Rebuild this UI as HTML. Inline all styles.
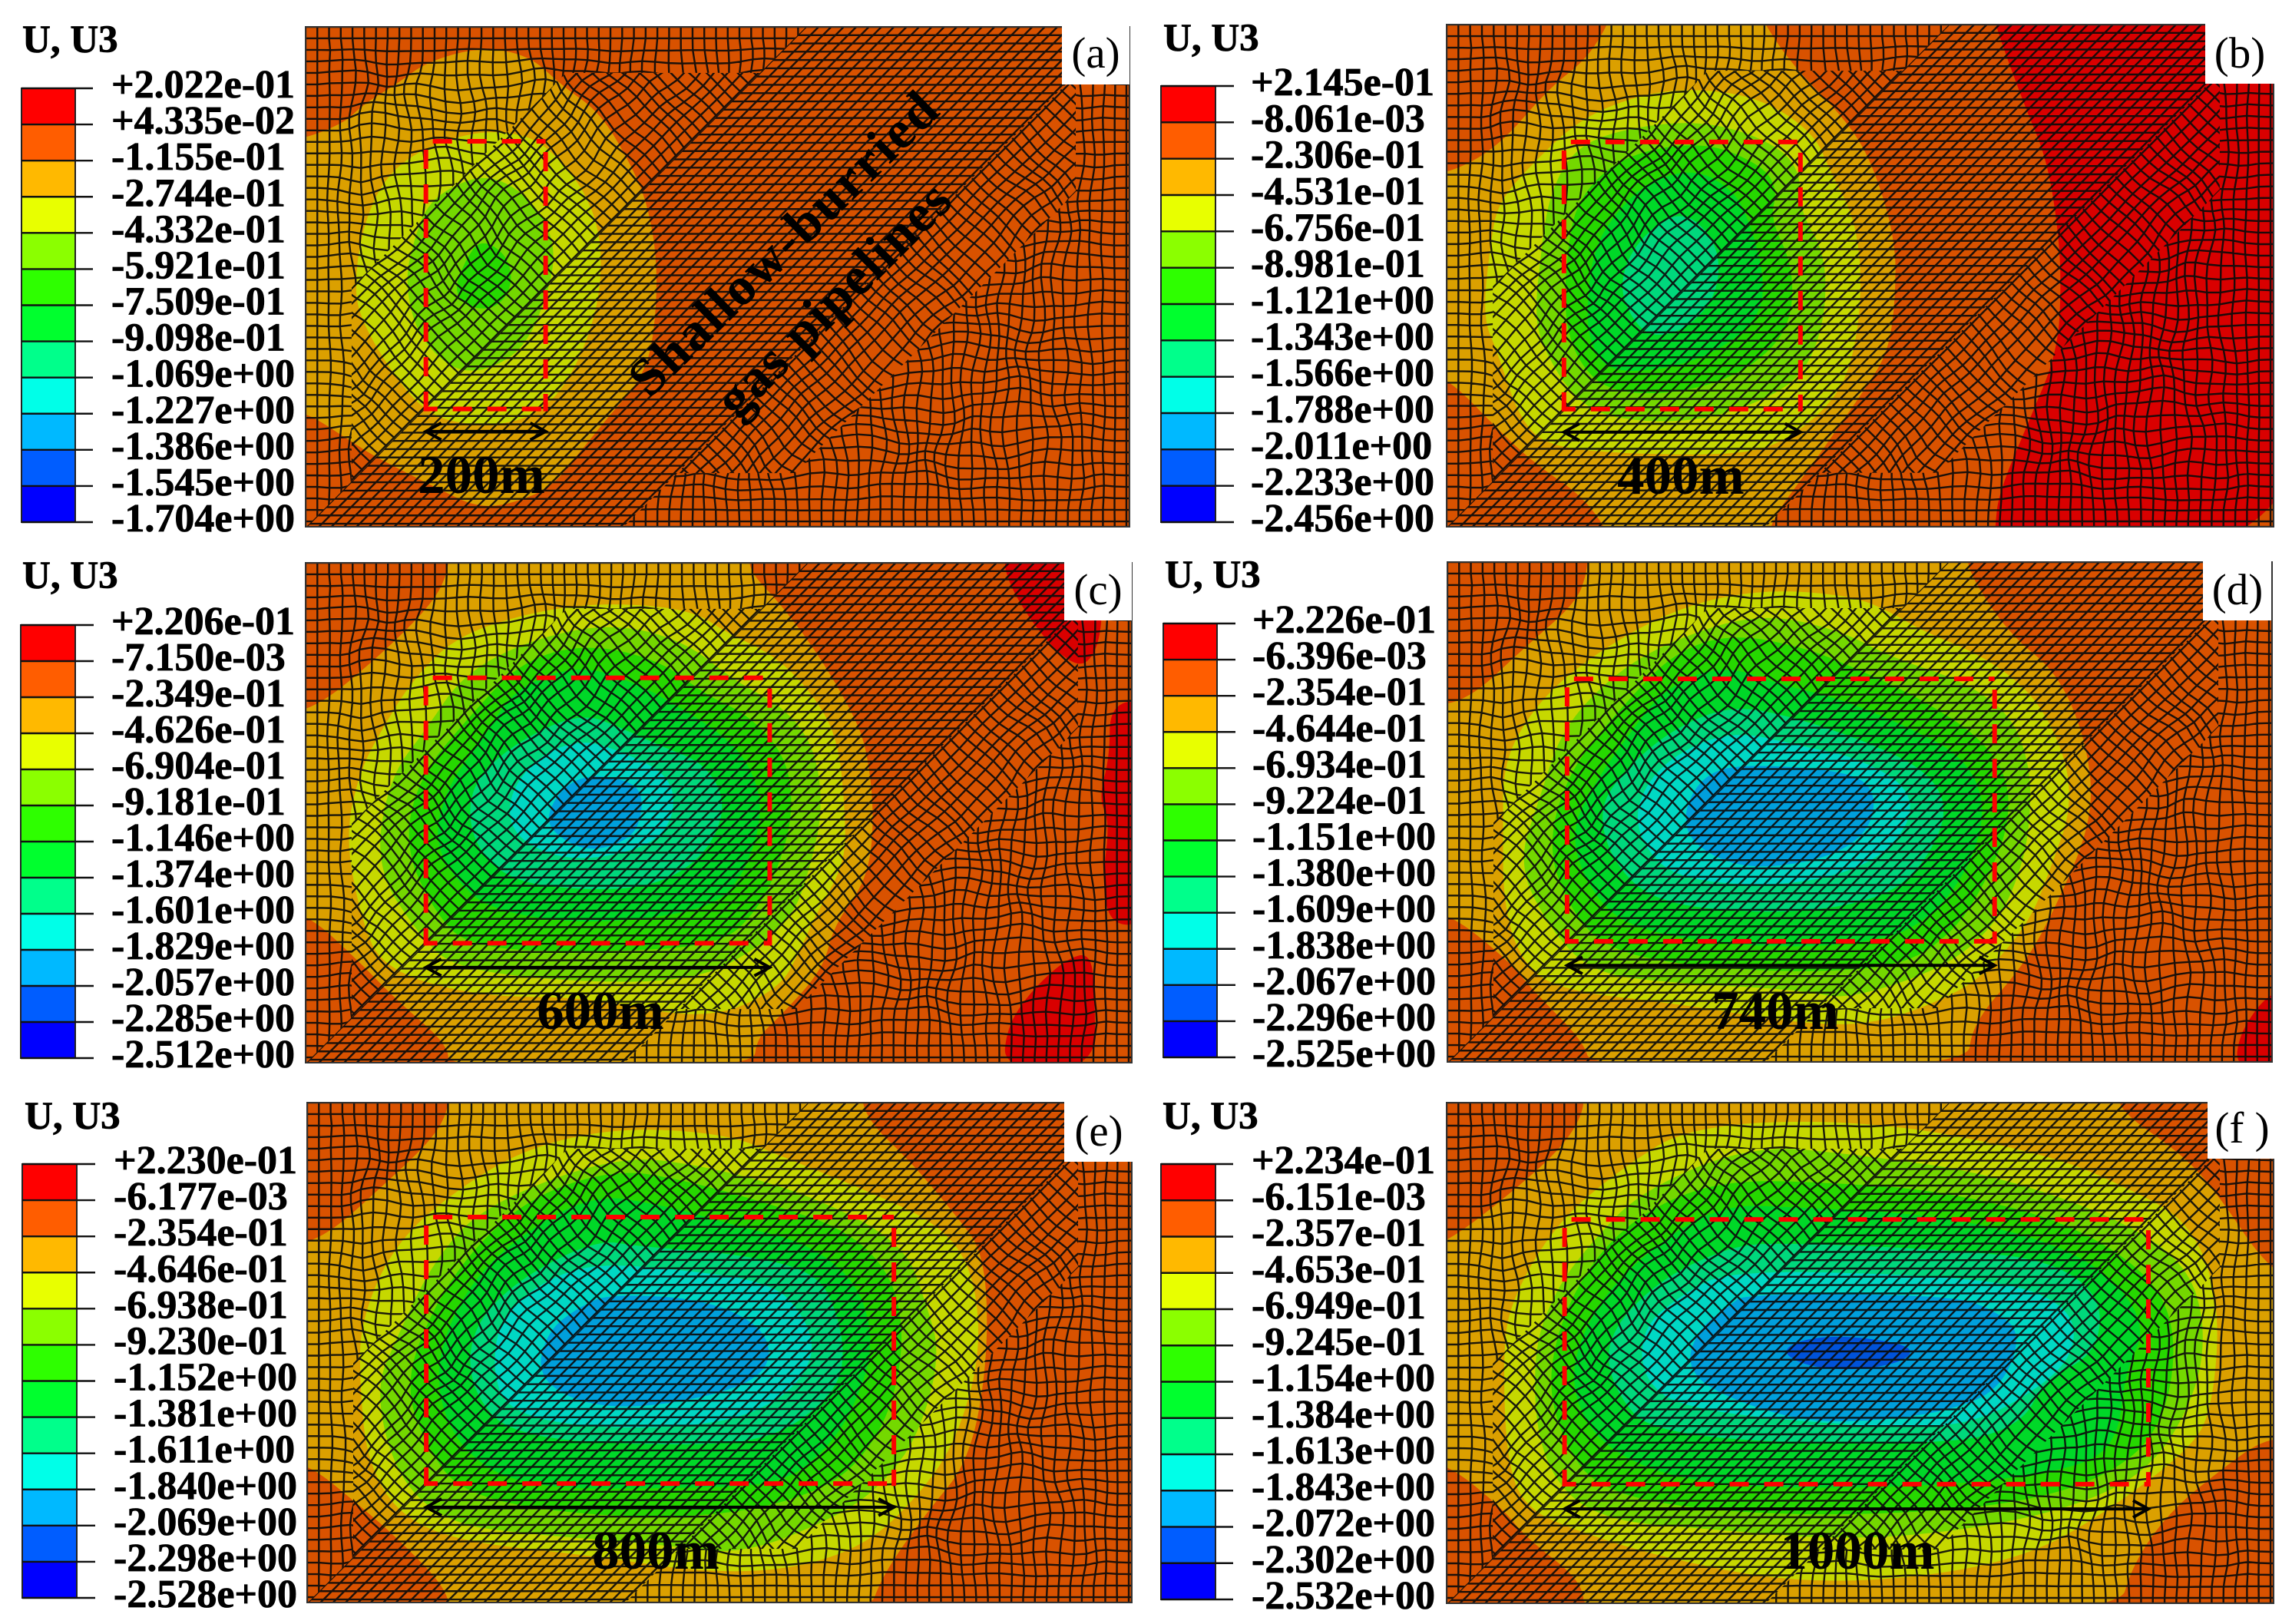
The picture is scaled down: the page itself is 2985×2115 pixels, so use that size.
<!DOCTYPE html>
<html lang="en">
<head>
<meta charset="utf-8">
<title>U3 displacement contours for six tunnel widths</title>
<style>
html,body{margin:0;padding:0;background:#fff;}
svg{display:block;}
text{font-family:"Liberation Serif","DejaVu Serif",serif;}
</style>
</head>
<body>
<svg id="figure" xmlns="http://www.w3.org/2000/svg" width="2985" height="2115" viewBox="0 0 2985 2115">
<rect width="2985" height="2115" fill="#ffffff"/>
<defs id="defs"></defs>
</svg>
<script>
// ---------- legend data ----------
const bandLegendColors = ['#ff0000','#ff5d00','#ffb900','#e8ff00','#8bff00','#2eff00','#00ff2e','#00ff8b','#00ffe8','#00b9ff','#005dff','#0000ff'];
const bandFieldColors = ['#d90000','#d95200','#dba000','#c6d800','#74d800','#26d800','#00d828','#00d87c','#00d8c4','#009fdc','#0052d9','#0000d9'];
const ticksA = ['+2.022e-01','+4.335e-02','-1.155e-01','-2.744e-01','-4.332e-01','-5.921e-01','-7.509e-01','-9.098e-01','-1.069e+00','-1.227e+00','-1.386e+00','-1.545e+00','-1.704e+00'];
const ticksB = ['+2.145e-01','-8.061e-03','-2.306e-01','-4.531e-01','-6.756e-01','-8.981e-01','-1.121e+00','-1.343e+00','-1.566e+00','-1.788e+00','-2.011e+00','-2.233e+00','-2.456e+00'];
const ticksC = ['+2.206e-01','-7.150e-03','-2.349e-01','-4.626e-01','-6.904e-01','-9.181e-01','-1.146e+00','-1.374e+00','-1.601e+00','-1.829e+00','-2.057e+00','-2.285e+00','-2.512e+00'];
const ticksD = ['+2.226e-01','-6.396e-03','-2.354e-01','-4.644e-01','-6.934e-01','-9.224e-01','-1.151e+00','-1.380e+00','-1.609e+00','-1.838e+00','-2.067e+00','-2.296e+00','-2.525e+00'];
const ticksE = ['+2.230e-01','-6.177e-03','-2.354e-01','-4.646e-01','-6.938e-01','-9.230e-01','-1.152e+00','-1.381e+00','-1.611e+00','-1.840e+00','-2.069e+00','-2.298e+00','-2.528e+00'];
const ticksF = ['+2.234e-01','-6.151e-03','-2.357e-01','-4.653e-01','-6.949e-01','-9.245e-01','-1.154e+00','-1.384e+00','-1.613e+00','-1.843e+00','-2.072e+00','-2.302e+00','-2.532e+00'];

// ---------- tunnel data (metres in model space) ----------
const panelLetters = ['(a)','(b)','(c)','(d)','(e)','(f )'];
const tunnelLabels = ['200m','400m','600m','740m','800m','1000m'];
const tunnelLeftM = [204,199,204,203,202,200];
const tunnelWidthM = [203,401,583,725,793,990];
const tunnelTopM = [194,199,195,198,194,198];
const tunnelBottomM = [648,652,645,643,646,647];
const arrowYM = [686,691,686,684,686,689];

// ---------- contour boundaries, model coordinates, one array per band ----------
const contourA2 = [[-20,1190],[25,1190],[110,1280],[160,1330],[270,1420],[340,1475],[400,1470],[480,1420],[530,1320],[600,1180],[640,1110],[670,1000],[680,760],[660,560],[620,420],[570,290],[500,210],[440,120],[350,95],[250,140],[200,200],[130,270],[100,320],[25,370],[-20,370]];
const contourA3 = [[350,345],[440,360],[490,420],[540,520],[570,640],[575,780],[560,920],[520,1080],[470,1180],[400,1230],[300,1225],[240,1180],[180,1060],[130,920],[115,820],[130,640],[170,490],[240,400]];
const contourA4 = [[360,480],[420,520],[470,610],[490,720],[470,860],[430,1000],[370,1060],[320,1070],[280,1040],[230,950],[210,800],[225,680],[250,570],[300,510]];
const contourA5 = [[350,670],[400,720],[410,810],[380,880],[330,880],[300,830],[320,740]];

const contourB0 = [[1165,40],[1165,70],[1205,300],[1235,450],[1250,640],[1255,800],[1250,1000],[1210,1200],[1170,1400],[1165,1500],[1165,1560],[1620,1560],[1620,40]];
const contourB2 = [[850,40],[850,60],[890,185],[965,345],[1000,470],[1030,680],[1030,850],[1020,1000],[990,1100],[950,1220],[920,1310],[860,1480],[860,1540],[640,1540],[635,1490],[600,1400],[550,1330],[500,1240],[420,1065],[380,1065],[380,490],[421,495],[490,420],[560,250],[610,170],[640,70],[640,40]];
const contourB3 = [[760,250],[850,280],[920,380],[940,480],[975,620],[985,800],[975,1000],[950,1130],[890,1240],[830,1290],[680,1290],[560,1270],[520,1190],[490,1000],[470,900],[480,700],[490,580],[530,480],[600,340],[680,270]];
const contourB4 = [[760,340],[850,390],[900,470],[900,600],[935,720],[935,900],[910,1050],[860,1130],[760,1200],[640,1190],[590,1120],[555,1000],[540,900],[550,700],[560,560],[590,430],[650,370]];
const contourB5 = [[770,400],[850,470],[870,540],[860,620],[890,750],[890,900],[860,1000],[800,1080],[720,1120],[640,1110],[600,1030],[580,900],[585,700],[600,560],[660,440]];
const contourB6 = [[760,480],[810,540],[830,620],[850,760],[850,880],[810,970],[740,1040],[650,1060],[620,1000],[610,900],[620,700],[660,580],[700,510]];
const contourB7 = [[740,590],[790,690],[790,830],[750,930],[700,960],[670,900],[655,800],[680,680]];

const contourC0a = [[1365,50],[1500,50],[1500,250],[1490,340],[1470,380],[1435,330],[1395,220],[1370,120]];
const contourC0b = [[1510,490],[1560,470],[1560,1130],[1510,1130],[1500,1000],[1510,830],[1495,760],[1510,640]];
const contourC0c = [[1365,1550],[1370,1430],[1400,1330],[1450,1230],[1485,1210],[1490,1350],[1490,1550]];
const contourC2 = [[1020,40],[1020,100],[1060,190],[1110,330],[1160,510],[1180,620],[1190,820],[1180,1000],[1135,1130],[1120,1260],[1060,1400],[1030,1460],[1025,1550],[610,1550],[610,1480],[540,1350],[490,1240],[420,1100],[380,1100],[380,510],[430,500],[520,340],[590,190],[610,100],[610,40]];
const contourC3 = [[820,190],[940,210],[990,280],[1050,340],[1100,440],[1140,580],[1150,800],[1150,950],[1110,1100],[1090,1200],[1060,1320],[960,1410],[800,1340],[650,1340],[520,1260],[490,1100],[470,870],[490,680],[520,560],[560,420],[620,290],[720,220]];
const contourC4 = [[830,250],[930,300],[1000,420],[1070,500],[1110,620],[1120,800],[1100,980],[1080,1100],[1030,1200],[950,1290],[800,1300],[620,1260],[570,1160],[510,960],[530,700],[580,560],[630,400],[720,300]];
const contourC5 = [[800,310],[900,360],[960,460],[1020,520],[1070,640],[1080,800],[1060,960],[1030,1090],[980,1190],[820,1210],[640,1200],[590,1090],[550,900],[570,700],[640,520],[710,360]];
const contourC6 = [[790,370],[870,430],[920,490],[980,570],[1020,660],[1040,800],[1010,1000],[960,1090],[800,1130],[670,1090],[620,1000],[590,880],[610,720],[660,580],[700,440]];
const contourC7 = [[790,510],[850,560],[900,610],[960,660],[990,780],[960,930],[890,1020],[790,1030],[690,1000],[640,880],[640,720],[700,600]];
const contourC8 = [[790,590],[840,620],[910,690],[920,800],[890,900],[780,950],[700,880],[690,760],[730,640]];
const contourC9 = [[810,690],[870,720],[875,800],[860,880],[800,920],[750,860],[745,800],[770,720]];

const contourD0 = [[1490,1550],[1495,1450],[1530,1340],[1560,1320],[1560,1550]];
const contourD2 = [[1125,40],[1125,100],[1180,280],[1250,400],[1290,620],[1295,830],[1240,1100],[1200,1250],[1130,1420],[1125,1550],[610,1550],[600,1470],[530,1320],[500,1240],[420,1100],[380,1100],[380,490],[440,480],[520,320],[590,190],[605,100],[605,40]];
const contourD3 = [[840,150],[970,170],[1030,230],[1060,270],[1150,350],[1220,470],[1260,650],[1265,800],[1240,950],[1210,1120],[1150,1270],[1100,1340],[1000,1420],[900,1420],[730,1360],[560,1320],[510,1220],[490,1050],[490,850],[490,660],[530,500],[600,360],[720,210]];
const contourD4 = [[840,220],[950,270],[1020,350],[1120,420],[1185,520],[1210,670],[1210,820],[1200,950],[1170,1110],[1100,1250],[960,1350],[900,1320],[720,1300],[610,1270],[550,1130],[510,950],[540,760],[570,560],[640,400],[720,300]];
const contourD5 = [[800,280],[900,320],[970,380],[1060,470],[1140,580],[1180,700],[1180,850],[1150,1000],[1110,1140],[1040,1250],[900,1270],[740,1250],[630,1200],[580,1080],[550,900],[580,680],[650,500],[720,340]];
const contourD6 = [[790,370],[870,430],[950,470],[1040,550],[1120,640],[1150,780],[1130,950],[1080,1100],[1010,1180],[850,1200],[670,1150],[610,1040],[580,860],[620,700],[660,580],[710,440]];
const contourD7 = [[800,490],[880,520],[980,590],[1070,680],[1100,800],[1060,970],[1000,1060],[870,1100],[700,1070],[640,950],[620,800],[650,690],[720,560]];
const contourD8 = [[800,560],[900,610],[970,640],[1040,720],[1050,820],[1000,950],[880,1020],[730,1000],[680,900],[670,780],[710,650]];
const contourD9 = [[810,660],[960,680],[1000,740],[990,860],[930,940],[820,970],[750,900],[735,810],[760,700]];

const contourE2 = [[1170,40],[1180,130],[1240,250],[1300,400],[1340,510],[1345,800],[1320,1100],[1260,1250],[1200,1430],[1180,1550],[610,1550],[610,1470],[540,1320],[490,1230],[420,1110],[380,1110],[380,490],[440,470],[530,300],[590,180],[610,100],[610,40]];
const contourE3 = [[850,150],[990,170],[1060,230],[1190,340],[1280,430],[1325,560],[1335,800],[1300,1050],[1250,1200],[1180,1340],[1080,1410],[960,1420],[800,1370],[620,1330],[540,1250],[500,1100],[490,900],[490,700],[540,470],[640,300],[730,200]];
const contourE4 = [[840,230],[960,260],[1100,340],[1230,480],[1260,650],[1280,800],[1250,1030],[1200,1170],[1140,1260],[1010,1370],[900,1340],[720,1310],[610,1280],[540,1150],[510,900],[540,750],[590,530],[660,370]];
const contourE5 = [[840,270],[930,300],[1050,370],[1150,440],[1210,560],[1230,720],[1220,900],[1190,1050],[1130,1180],[990,1260],[800,1260],[630,1200],[580,1060],[550,880],[590,660],[650,480],[730,340]];
const contourE6 = [[800,340],[900,370],[1000,430],[1100,480],[1170,600],[1190,780],[1160,960],[1120,1080],[1060,1170],[920,1180],[710,1180],[620,1060],[590,860],[620,660],[680,500]];
const contourE7 = [[810,470],[870,490],[1000,510],[1110,560],[1140,680],[1150,820],[1130,920],[1060,1030],[960,1060],[700,1040],[640,900],[640,730],[700,590]];
const contourE8 = [[800,540],[900,550],[1050,590],[1095,690],[1110,800],[1070,920],[980,1000],[800,1010],[690,960],[670,840],[680,700],[730,600]];
const contourE9 = [[830,625],[960,640],[1040,720],[1050,830],[1000,900],[880,950],[790,940],[730,860],[745,730],[790,660]];

const contourF2 = [[1335,40],[1330,100],[1420,230],[1470,350],[1530,540],[1580,600],[1580,1040],[1530,1040],[1470,1130],[1400,1250],[1350,1400],[1330,1550],[600,1550],[600,1450],[520,1320],[490,1240],[413,1110],[370,1110],[370,500],[413,480],[500,340],[570,210],[600,110],[600,40]];
const contourF3 = [[750,140],[1000,130],[1240,230],[1340,320],[1430,420],[1470,650],[1460,950],[1430,1070],[1300,1270],[1200,1380],[1050,1440],[880,1450],[710,1380],[600,1310],[520,1240],[495,1100],[490,800],[500,650],[560,430],[650,270]];
const contourF4 = [[830,200],[980,230],[1150,280],[1320,400],[1420,530],[1450,700],[1440,900],[1380,1120],[1280,1230],[1130,1300],[960,1330],[780,1300],[610,1270],[540,1100],[530,800],[560,620],[610,480],[680,330]];
const contourF5 = [[810,300],[950,310],[1080,330],[1250,410],[1370,560],[1410,720],[1400,950],[1350,1110],[1220,1220],[1000,1260],[780,1250],[620,1190],[570,1040],[550,860],[580,640],[640,460],[720,350]];
const contourF6 = [[780,370],[900,380],[1080,400],[1230,470],[1320,570],[1370,720],[1340,850],[1330,1050],[1270,1130],[1070,1180],[770,1180],[630,1080],[580,900],[600,720],[660,550]];
const contourF7 = [[800,490],[870,480],[1100,500],[1240,530],[1310,640],[1300,800],[1230,870],[1200,1000],[1100,1060],[700,1040],[640,900],[630,750],[700,590]];
const contourF8 = [[800,560],[1050,570],[1200,600],[1270,680],[1270,800],[1220,900],[1130,1000],[1010,1010],[740,960],[680,870],[680,720],[740,620]];
const contourF9 = [[820,625],[1100,630],[1160,670],[1200,740],[1170,900],[1100,960],[1000,990],[890,990],[770,900],[740,820],[760,720],[800,660]];
const contourF10 = [[960,745],[1040,770],[1050,800],[1020,830],[960,845],[900,830],[870,790],[900,755]];

const contourSetA = [[2,contourA2],[3,contourA3],[4,contourA4],[5,contourA5]];
const contourSetB = [[0,contourB0],[2,contourB2],[3,contourB3],[4,contourB4],[5,contourB5],[6,contourB6],[7,contourB7]];
const contourSetC = [[0,contourC0a],[0,contourC0b],[0,contourC0c],[2,contourC2],[3,contourC3],[4,contourC4],[5,contourC5],[6,contourC6],[7,contourC7],[8,contourC8],[9,contourC9]];
const contourSetD = [[0,contourD0],[2,contourD2],[3,contourD3],[4,contourD4],[5,contourD5],[6,contourD6],[7,contourD7],[8,contourD8],[9,contourD9]];
const contourSetE = [[2,contourE2],[3,contourE3],[4,contourE4],[5,contourE5],[6,contourE6],[7,contourE7],[8,contourE8],[9,contourE9]];
const contourSetF = [[2,contourF2],[3,contourF3],[4,contourF4],[5,contourF5],[6,contourF6],[7,contourF7],[8,contourF8],[9,contourF9],[10,contourF10]];

// ---------- layout ----------
const PX_PER_M = 0.768;
const layouts = [
 {id:'a',ticks:ticksA,set:contourSetA,x:398,y:35,w:1073,h:651,dx:[25,1555],dy:[35,1535],
  bar:[28,115,70,565,121],labelX:145,title:[29,68],box:[1383,31,88,79],ltx:1427,lty:88,tx:627,ty:642},
 {id:'b',ticks:ticksB,set:contourSetB,x:1884,y:32,w:1077,h:654,dx:[421,1543],dy:[70,1495],
  bar:[1512,112,71,568,1607],labelX:1629,title:[1515,66],box:[2872,30,90,79],ltx:2917,lty:88,tx:2189,ty:643},
 {id:'c',ticks:ticksC,set:contourSetC,x:398,y:733,w:1076,h:651,dx:[416,1540],dy:[75,1532],
  bar:[27,814,71,564,122],labelX:145,title:[29,766],box:[1386,730,88,78],ltx:1430,lty:787,tx:782,ty:1340},
 {id:'d',ticks:ticksD,set:contourSetD,x:1885,y:732,w:1074,h:651,dx:[414,1540],dy:[72,1530],
  bar:[1515,812,70,565,1609],labelX:1631,title:[1517,765],box:[2869,730,89,78],ltx:2914,lty:787,tx:2312,ty:1340},
 {id:'e',ticks:ticksE,set:contourSetE,x:400,y:1436,w:1074,h:651,dx:[418,1540],dy:[80,1505],
  bar:[29,1516,71,565,124],labelX:148,title:[32,1470],box:[1386,1433,90,80],ltx:1431,lty:1492,tx:854,ty:2043},
 {id:'f',ticks:ticksF,set:contourSetF,x:1884,y:1436,w:1077,h:652,dx:[413,1543],dy:[80,1510],
  bar:[1512,1516,71,567,1606],labelX:1630,title:[1514,1470],box:[2875,1431,90,78],ltx:2920,lty:1488,tx:2419,ty:2043}
];

const NS = 'http://www.w3.org/2000/svg';
const svg = document.getElementById('figure');
const defs = document.getElementById('defs');



function make(tag, attrs, parent) {
  const e = document.createElementNS(NS, tag);
  for (const k in attrs) e.setAttribute(k, attrs[k]);
  if (parent) parent.appendChild(e);
  return e;
}

function smoothClosed(points) {
  const n = points.length;
  const mid = (p, q) => [(p[0] + q[0]) / 2, (p[1] + q[1]) / 2];
  const start = mid(points[n - 1], points[0]);
  let d = 'M' + start[0].toFixed(1) + ' ' + start[1].toFixed(1);
  for (let i = 0; i < n; i++) {
    const m = mid(points[i], points[(i + 1) % n]);
    d += 'Q' + points[i][0].toFixed(1) + ' ' + points[i][1].toFixed(1) + ' ' + m[0].toFixed(1) + ' ' + m[1].toFixed(1);
  }
  return d + 'Z';
}

// ---------- shared finite-element mesh ----------
const MW = 1075, MH = 652;
const BAND_S0 = 653, BAND_S1 = 1067;
const bandPoly = [[653,0],[1067,0],[415,652],[1,652]];
const diamondLeftPoly = [[593,60],[340,60],[60,340],[60,593]];
const diamondRightPoly = [[1005,62],[1005,215],[638,582],[485,582]];

function polyD(p) { return 'M' + p.map(q => q[0] + ' ' + q[1]).join('L') + 'Z'; }

const clipBand = make('clipPath', {id:'clip-band'}, defs);
make('path', {d: polyD(bandPoly)}, clipBand);
const clipDiamonds = make('clipPath', {id:'clip-diamonds'}, defs);
make('path', {d: polyD(diamondLeftPoly) + polyD(diamondRightPoly)}, clipDiamonds);
const clipRest = make('clipPath', {id:'clip-rest'}, defs);
make('path', {'clip-rule':'evenodd', d: 'M0 0H' + MW + 'V' + MH + 'H0Z' + polyD(bandPoly) + polyD(diamondLeftPoly) + polyD(diamondRightPoly)}, clipRest);

function warp(x, y, k) {
  const edge = Math.min(x, MW - x, y, MH - y);
  const m = k * Math.min(1, Math.max(0, edge - 15) / 60);
  return [
    x + m * (5 * Math.sin(x / 41 + y / 67) + 3 * Math.sin(x / 17.3 - y / 23.1) + 2 * Math.sin(y / 13.7 + x / 31)),
    y + m * (5 * Math.sin(x / 53 - y / 37) + 3 * Math.sin(y / 19.1 + x / 21.7) + 2 * Math.sin(x / 11.9 - y / 43))
  ];
}

function diamondNode(x, y) {
  const s = x + y;
  const dist = s < 860 ? (BAND_S0 - s) : (s - BAND_S1);
  const k = Math.max(0, Math.min(1, dist / 110));
  return warp(x, y, k);
}

function buildMesh() {
  const g = make('g', {id:'mesh', fill:'none', stroke:'#0b0b0b', 'stroke-width':'2.4', 'stroke-opacity':'0.92', 'stroke-linejoin':'round'}, defs);
  let d = '';
  for (let y = 0; y <= MH + 0.1; y += 10.8) d += 'M0 ' + y.toFixed(1) + 'H' + MW;
  for (let s = BAND_S0; s <= BAND_S1 + 1; s += 16.4) d += 'M' + s + ' 0L' + (s - 660) + ' 660';
  make('path', {d: d, 'clip-path':'url(#clip-band)'}, g);
  d = '';
  const S = 21;
  for (let s = 0; s <= 1800; s += S) {
    for (let y = 0, n = 0; y <= MH; y += S / 2, n++) {
      const p = diamondNode(s - y, y);
      d += (n ? 'L' : 'M') + p[0].toFixed(1) + ' ' + p[1].toFixed(1);
    }
  }
  for (let t = -651; t <= 1100; t += S) {
    for (let y = 0, n = 0; y <= MH; y += S / 2, n++) {
      const p = diamondNode(t + y, y);
      d += (n ? 'L' : 'M') + p[0].toFixed(1) + ' ' + p[1].toFixed(1);
    }
  }
  make('path', {d: d, 'clip-path':'url(#clip-diamonds)'}, g);
  d = '';
  const sx = 15.3, sy = 15;
  const nx = Math.ceil(MW / sx), ny = Math.ceil(MH / sy);
  for (let j = 0; j <= ny; j++) {
    for (let i = 0; i <= nx; i++) {
      const p = warp(Math.min(i * sx, MW), Math.min(j * sy, MH), 1);
      d += (i ? 'L' : 'M') + p[0].toFixed(1) + ' ' + p[1].toFixed(1);
    }
  }
  for (let i = 0; i <= nx; i++) {
    for (let j = 0; j <= ny; j++) {
      const p = warp(Math.min(i * sx, MW), Math.min(j * sy, MH), 1);
      d += (j ? 'L' : 'M') + p[0].toFixed(1) + ' ' + p[1].toFixed(1);
    }
  }
  make('path', {d: d, 'clip-path':'url(#clip-rest)'}, g);
}
buildMesh();

// ---------- panels ----------
layouts.forEach(function (p, idx) {
  const xS = v => p.x + (v - p.dx[0]) / (p.dx[1] - p.dx[0]) * p.w;
  const yS = v => p.y + (v - p.dy[0]) / (p.dy[1] - p.dy[0]) * p.h;
  const xM = m => p.x + m * PX_PER_M;
  const yM = m => p.y + m * PX_PER_M;

  const panel = make('g', {}, svg);
  
  

  // title
  const title = make('text', {x:p.title[0], y:p.title[1], 'font-size':51, 'font-weight':'bold', fill:'#000', stroke:'#000', 'stroke-width':0.8}, panel);
  
  
  title.textContent = 'U, U3';

  // legend colour bar
  const legend = make('g', {}, panel);
  
  
  const bx = p.bar[0], by = p.bar[1], bw = p.bar[2], bh = p.bar[3], tickEnd = p.bar[4];
  const step = bh / (p.ticks.length - 1);
  bandLegendColors.forEach(function (c, i) {
    const swatch = make('rect', {x:bx, y:by + i * step, width:bw, height:step + 0.5, fill:c}, legend);
    
    
  });
  const barFrame = make('rect', {x:bx, y:by, width:bw, height:bh, fill:'none', stroke:'#222', 'stroke-width':2}, legend);
  
  
  p.ticks.forEach(function (label, i) {
    const ty = by + i * step;
    const tick = make('line', {x1:bx, x2:tickEnd, y1:ty, y2:ty, stroke:'#111', 'stroke-width':2.4}, legend);
    
    
    const t = make('text', {x:p.labelX, y:ty + 12, 'font-size':52, 'font-weight':'bold', fill:'#000', stroke:'#000', 'stroke-width':0.8}, legend);
    
    
    t.textContent = label;
  });

  // contour field
  const clipId = 'clip-panel-' + p.id;
  const clip = make('clipPath', {id: clipId}, defs);
  make('rect', {x:p.x, y:p.y, width:p.w, height:p.h}, clip);
  const plot = make('g', {'clip-path':'url(#' + clipId + ')'}, panel);
  
  
  const base = make('rect', {x:p.x, y:p.y, width:p.w, height:p.h, fill:bandFieldColors[1]}, plot);
  
  
  p.set.forEach(function (entry) {
    const pts = entry[1].map(q => [xS(q[0]), yS(q[1])]);
    const path = make('path', {d: smoothClosed(pts), fill: bandFieldColors[entry[0]]}, plot);
    
    
  });
  const mesh = make('use', {href:'#mesh', transform:'translate(' + p.x + ' ' + p.y + ') scale(' + (p.w / MW).toFixed(4) + ' ' + (p.h / MH).toFixed(4) + ')'}, plot);
  
  

  const outline = make('rect', {x:p.x, y:p.y, width:p.w, height:p.h, fill:'none', stroke:'#333', 'stroke-width':2}, panel);
  
  

  // tunnel box
  const L = xM(tunnelLeftM[idx]), R = xM(tunnelLeftM[idx] + tunnelWidthM[idx]);
  const T = yM(tunnelTopM[idx]), B = yM(tunnelBottomM[idx]);
  const box = make('g', {stroke:'#ff0000', 'stroke-width':6, fill:'none', 'stroke-dasharray':'25 20'}, panel);
  
  
  make('line', {x1:L + 9, x2:R, y1:T, y2:T}, box);
  make('line', {x1:L, x2:L, y1:T + 11, y2:B + 3}, box);
  make('line', {x1:L - 3, x2:R, y1:B, y2:B, 'stroke-dashoffset':7}, box);
  make('line', {x1:R, x2:R, y1:T + 14, y2:B + 3}, box);

  // width arrow
  const ay = yM(arrowYM[idx]);
  const arrow = make('path', {d:'M' + L + ' ' + ay + 'H' + R +
    'M' + (L + 20) + ' ' + (ay - 11) + 'L' + L + ' ' + ay + 'L' + (L + 20) + ' ' + (ay + 11) +
    'M' + (R - 20) + ' ' + (ay - 11) + 'L' + R + ' ' + ay + 'L' + (R - 20) + ' ' + (ay + 11),
    fill:'none', stroke:'#000', 'stroke-width':4}, panel);
  
  

  const widthLabel = make('text', {x:p.tx, y:p.ty, 'font-size':71, 'font-weight':'bold', 'text-anchor':'middle', fill:'#000'}, panel);
  
  
  widthLabel.textContent = tunnelLabels[idx];

  // panel tag
  const tagBox = make('rect', {x:p.box[0], y:p.box[1], width:p.box[2], height:p.box[3], fill:'#fff'}, panel);
  
  
  const tag = make('text', {x:p.ltx, y:p.lty, 'font-size':57, 'text-anchor':'middle', fill:'#000'}, panel);
  
  
  tag.textContent = panelLetters[idx];
});

// ---------- pipeline annotation on panel (a) ----------
const pipe1 = make('text', {x:0, y:0, transform:'translate(846 520) rotate(-44.4)', 'font-size':70, 'font-weight':'bold', fill:'#000', textLength:532, lengthAdjust:'spacing'}, svg);


pipe1.textContent = 'Shallow-burried';
const pipe2 = make('text', {x:0, y:0, transform:'translate(960 548) rotate(-45)', 'font-size':70, 'font-weight':'bold', fill:'#000', textLength:400, lengthAdjust:'spacing'}, svg);


pipe2.textContent = 'gas pipelines';
</script>
</body>
</html>
